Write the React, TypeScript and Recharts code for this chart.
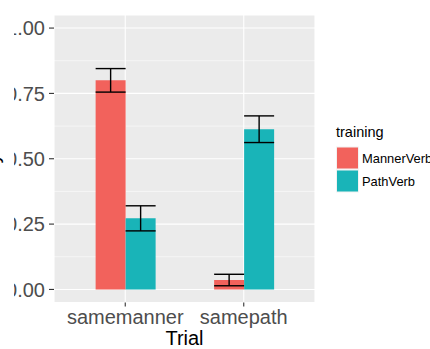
import React from 'react';
import { BarChart, Bar, XAxis, YAxis, CartesianGrid, ErrorBar, Label } from 'recharts';

const trials = ['samemanner', 'samepath'];
const mannerVerb = [0.8, 0.036];
const mannerVerbSE = [0.045, 0.022];
const pathVerb = [0.272, 0.613];
const pathVerbSE = [0.048, 0.051];
const trainingLevels = ['MannerVerb', 'PathVerb'];
const yTicks = [0, 0.25, 0.5, 0.75, 1];
const yMinor = [0.125, 0.375, 0.625, 0.875];
const colors = ['#F2625C', '#19B4B8'];

const data = trials.map((t, i) => ({
  trial: t,
  MannerVerb: mannerVerb[i],
  MannerVerbSE: mannerVerbSE[i],
  PathVerb: pathVerb[i],
  PathVerbSE: pathVerbSE[i],
}));

const FONT = '"Liberation Sans", Arial, Helvetica, sans-serif';

export default function App() {
  return (
    <div style={{ position: 'absolute', left: 0, top: 0, width: 430, height: 349, fontFamily: FONT }}>
      <div style={{ position: 'absolute', left: 14, top: 0 }}>
        <BarChart
          width={416}
          height={349}
          data={data}
          margin={{ top: 15, right: 115, bottom: 0, left: 0 }}
          barCategoryGap="25%"
          barGap={0}
        >
          <CartesianGrid
            fill="#EBEBEB"
            stroke="#FFFFFF"
            strokeWidth={0.55}
            vertical={false}
            horizontalValues={yMinor}
          />
          <CartesianGrid stroke="#FFFFFF" strokeWidth={1.1} />
          <XAxis
            dataKey="trial"
            type="category"
            height={46.5}
            padding={{ left: 12, right: 12 }}
            axisLine={false}
            tickLine={{ stroke: '#333333', strokeWidth: 1.1 }}
            tickSize={4}
            tickMargin={3.6}
            tick={{ fill: '#4D4D4D', fontSize: 20, fontFamily: FONT }}
            interval={0}
          >
            <Label value="Trial" position="insideBottom" offset={4} fill="#000000" fontSize={20} fontFamily={FONT} />
          </XAxis>
          <YAxis
            type="number"
            domain={[-0.05, 1.05]}
            ticks={yTicks}
            width={40}
            axisLine={false}
            tickLine={{ stroke: '#333333', strokeWidth: 1.1 }}
            tickSize={5}
            tickMargin={4}
            tickFormatter={(v: number) => v.toFixed(2)}
            tick={{ fill: '#4D4D4D', fontSize: 20, fontFamily: FONT }}
            allowDataOverflow
          />
          <Bar dataKey="MannerVerb" fill={colors[0]} isAnimationActive={false}>
            <ErrorBar dataKey="MannerVerbSE" width={15} stroke="#000000" strokeWidth={1.4} direction="y" />
          </Bar>
          <Bar dataKey="PathVerb" fill={colors[1]} isAnimationActive={false}>
            <ErrorBar dataKey="PathVerbSE" width={15} stroke="#000000" strokeWidth={1.4} direction="y" />
          </Bar>
        </BarChart>
      </div>
      <svg
        width={430}
        height={349}
        style={{ position: 'absolute', left: 0, top: 0, pointerEvents: 'none' }}
      >
        <text
          transform="translate(-1.5,158.5) rotate(-90)"
          textAnchor="middle"
          fontSize={20}
          fill="#000000"
          fontFamily={FONT}
        >
          y
        </text>
        <text x={336} y={136.5} fontSize={14.5} fill="#000000" fontFamily={FONT}>
          training
        </text>
        {trainingLevels.map((lvl, i) => (
          <g key={lvl}>
            <rect x={336} y={146.5 + i * 23} width={23} height={23} fill="#F2F2F2" />
            <rect x={337} y={147.5 + i * 23} width={21} height={21} fill={colors[i]} />
            <text x={362} y={162.7 + i * 23} fontSize={12.9} fill="#000000" fontFamily={FONT}>
              {lvl}
            </text>
          </g>
        ))}
      </svg>
    </div>
  );
}
